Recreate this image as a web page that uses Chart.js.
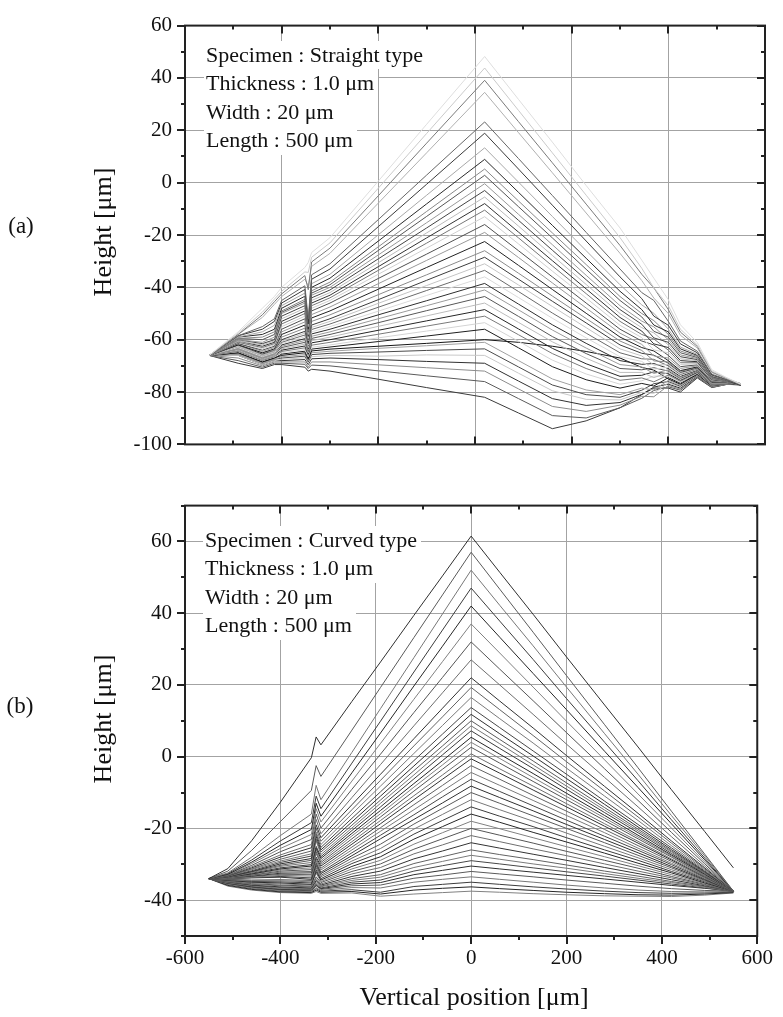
<!DOCTYPE html>
<html>
<head>
<meta charset="utf-8">
<script src="https://cdn.jsdelivr.net/npm/chart.js@4.4.1/dist/chart.umd.min.js"></script>
<style>
  html, body { margin:0; padding:0; background:#fff; }
  body { width:783px; height:1017px; position:relative; overflow:hidden; font-family:"Liberation Serif","Times New Roman",serif; color:#111; }
  canvas { position:absolute; left:0; }
  .rot { position:absolute; font-size:26px; line-height:1; white-space:nowrap; transform:translate(-50%,-50%) rotate(-90deg); }
  .ctr { position:absolute; line-height:1; white-space:nowrap; transform:translate(-50%,-50%); }
  .box { position:absolute; font-size:22px; line-height:28.4px; }
  .box span { display:block; width:fit-content; background:#fff; padding:0 4px 0 2px; white-space:nowrap; }
</style>
</head>
<body>
<canvas id="ca" width="783" height="470" style="top:0;width:783px;height:470px"></canvas>
<canvas id="cb" width="783" height="537" style="top:480px;width:783px;height:537px"></canvas>

<div class="ctr" style="left:21px;top:225px;font-size:23px">(a)</div>
<div class="ctr" style="left:20px;top:705px;font-size:23px">(b)</div>
<div class="rot" style="left:103px;top:232px">Height [μm]</div>
<div class="rot" style="left:103px;top:719px">Height [μm]</div>
<div class="ctr" style="left:474px;top:997px;font-size:26px">Vertical position [μm]</div>

<div class="box" style="left:204px;top:41px">
  <span>Specimen : Straight type</span>
  <span>Thickness : 1.0 μm</span>
  <span>Width : 20 μm</span>
  <span>Length : 500 μm</span>
</div>
<div class="box" style="left:203px;top:526px">
  <span>Specimen : Curved type</span>
  <span>Thickness : 1.0 μm</span>
  <span>Width : 20 μm</span>
  <span>Length : 500 μm</span>
</div>

<script>
// ---------------- data: (a) straight type ----------------
const xStraight = [-550,-490,-440,-415,-400,-352,-345,-338,-300,-200,-100,20,90,160,230,300,345,370,400,425,460,490,520,550];
const s01 = [-66,-57,-48,-43.5,-40,-32.4,-30.5,-26.7,-21,0.6,22.3,48.2,31.8,15.5,-1.1,-17.3,-29.6,-36.5,-44.7,-54.3,-61.1,-71.5,-74.4,-77];
const s02 = [-66,-57.5,-49.5,-44.5,-41.5,-34.1,-34.3,-28.5,-23,-2.1,18.8,43.8,27.6,11.4,-4.8,-21,-32.7,-40.2,-47,-56,-62,-72,-74.6,-77];
const s03 = [-66,-58,-50.5,-45.5,-42.5,-35.5,-40.9,-30.3,-25,-5,15.1,39.1,23.3,7.6,-8.2,-24,-35,-40.2,-48.5,-57.1,-62.6,-72.3,-74.7,-77.2];
const s04 = [-66,-58,-51.5,-46.5,-43.5,-36.9,-39.4,-32,-27,-7.8,11.4,34.5,19.1,3.8,-11.6,-27,-37.4,-44.1,-50,-58.3,-63.2,-72.6,-74.8,-76.8];
const s05 = [-66,-58.5,-55,-52,-45,-39.4,-52,-35.2,-31,-14.1,2.9,23.2,9.2,-4.9,-19,-33,-42,-45,-53,-60.5,-64.4,-73.2,-75.1,-77.3];
const s06 = [-66,-58.5,-56,-53,-46,-40.8,-54,-36.9,-33,-16.8,-0.6,18.9,5.2,-8.6,-22.3,-36,-44.3,-51,-54.5,-61.6,-65,-73.5,-75.2,-76.8];
const s07 = [-66,-59,-57,-54.5,-47,-42.2,-55,-38.6,-35,-19.9,-4.8,13.3,0.2,-12.9,-26,-39,-46.7,-49.9,-56,-62.8,-65.6,-73.8,-75.3,-77];
const s08 = [-66,-59,-58,-56,-48,-43.4,-56,-40,-36.5,-22.3,-8.1,8.9,-3.7,-16.3,-28.9,-41.5,-48.5,-54.4,-57,-63.5,-66,-74,-75.4,-77.4];
const s09 = [-66,-59.5,-59,-57,-49,-44.6,-56.5,-41.3,-38,-24.5,-11,5.2,-7,-19.2,-31.3,-43.5,-50,-52.7,-58,-64.3,-66.4,-74.2,-75.5,-76.9];
const s10 = [-66,-59.5,-60,-58,-49.5,-45.3,-57,-42.2,-39,-25.9,-12.9,2.8,-9.2,-21.1,-33.1,-45,-51.3,-56.8,-59,-65,-66.8,-74.4,-75.6,-77.2];
const s11 = [-66,-60,-61,-59,-50,-46,-57.5,-43,-40,-27.6,-15.3,-0.4,-12.1,-23.7,-35.4,-47,-52.9,-55.1,-60,-65.8,-67.2,-74.6,-75.6,-76.8];
const s12 = [-66,-60,-61.5,-60,-51,-47,-57,-44,-41,-29.1,-17.3,-3,-14.4,-25.8,-37.1,-48.5,-54.1,-59.3,-61,-66.5,-67.6,-74.8,-75.7,-77.1];
const s13 = [-66,-60.5,-62,-60.5,-52,-48,-58,-45,-42,-30.6,-19.2,-5.5,-16.6,-27.8,-38.9,-50,-55.4,-57.4,-62,-67.3,-68,-75,-75.8,-77];
const s14 = [-66,-60.5,-62.5,-61,-53,-49,-58.5,-46,-43,-32.1,-21.1,-8,-18.9,-29.8,-40.6,-51.5,-56.7,-61.6,-63,-68,-68.4,-75.2,-75.9,-77.3];
const s15 = [-66,-61,-63,-61.5,-54,-50,-59,-47,-44,-33.5,-23.1,-10.5,-21.1,-31.8,-42.4,-53,-58,-59.7,-64,-68.8,-68.8,-75.4,-76,-76.9];
const s16 = [-66,-61,-63.5,-62,-55,-51,-59.5,-48,-45,-35,-25,-13,-23.4,-33.8,-44.1,-54.5,-59.2,-63.9,-65,-69.5,-69.2,-75.6,-76,-77.2];
const s17 = [-66,-61.5,-64,-62.5,-56,-52,-60,-49,-46,-36.6,-27.3,-16,-26,-36,-46,-56,-60.5,-62,-66,-70.3,-69.6,-75.8,-76.1,-77];
const s18 = [-66,-61.5,-64.5,-63,-57,-53.2,-60.5,-50.4,-47.5,-38.6,-29.7,-19,-28.6,-38.3,-47.9,-57.5,-61.8,-66.2,-67,-71,-70,-76,-76.2,-77.3];
const s19 = [-66,-62,-65,-63.5,-58,-54.4,-61,-51.7,-49,-40.7,-32.4,-22.5,-31.6,-40.8,-49.9,-59,-63,-64.3,-68,-71.8,-70.4,-76.2,-76.3,-76.9];
const s20 = [-66,-62,-65,-64,-59,-55.6,-61,-53,-50.5,-42.8,-35.2,-26,-34.6,-43.3,-51.9,-60.5,-64.1,-68.1,-68.5,-72.1,-70.6,-76.3,-76.3,-77];
const s21 = [-66,-62,-65.5,-64,-60,-56.8,-61.5,-54.4,-52,-44.7,-37.3,-28.5,-36.9,-45.3,-53.6,-62,-65.2,-65.9,-69,-72.5,-70.8,-76.4,-76.4,-77.2];
const s22 = [-66,-62.5,-66,-64.5,-60.5,-57.5,-62,-55.3,-53,-46.1,-39.3,-31,-39.1,-47.3,-55.4,-63.5,-66.2,-69.7,-69.5,-72.9,-71,-76.5,-76.4,-76.9];
const s23 = [-66,-62.5,-66,-64.5,-61,-58.2,-62.5,-56.1,-54,-47.6,-41.2,-33.5,-41.6,-49.8,-57.5,-65,-67.3,-67.5,-70,-73.3,-71.2,-76.6,-76.4,-77.1];
const s24 = [-66,-63,-66.5,-65,-61.5,-58.9,-63,-57,-55,-49.1,-43.1,-36,-43.9,-51.8,-59.3,-66.5,-68.3,-71.3,-70.5,-73.6,-71.4,-76.7,-76.5,-77];
const s25 = [-66,-63,-66.5,-65,-62,-59.6,-63.5,-57.8,-56,-50.5,-45.1,-38.5,-46.4,-54.3,-61.4,-68,-69.4,-69.1,-71,-74,-71.6,-76.8,-76.5,-77.3];
const s26 = [-66,-63.5,-67,-65.5,-62.5,-60.3,-64,-58.7,-57,-52,-47,-41,-48.6,-56.3,-63.2,-69.5,-70.4,-72.9,-71.5,-74.4,-71.8,-76.9,-76.6,-77];
const s27 = [-66,-63.5,-67,-65.5,-63,-61,-64.5,-59.5,-58,-53.5,-48.9,-43.5,-51.1,-58.8,-65.3,-71,-71.5,-70.7,-72,-74.8,-72,-77,-76.6,-77.2];
const s28 = [-66,-64,-67.5,-66,-63.5,-61.7,-65,-60.4,-59,-54.9,-50.9,-46,-53.4,-60.8,-67.1,-72.5,-72.5,-74.5,-72.5,-75.1,-72.2,-77.1,-76.6,-76.9];
const s29 = [-66,-64,-67.5,-66,-64,-62.4,-65.5,-61.2,-60,-56.4,-52.8,-48.5,-55.9,-63.3,-69.2,-74,-73.6,-72.3,-73,-75.5,-72.4,-77.2,-76.7,-77.2];
const s30 = [-66,-64.5,-68,-66.5,-64.5,-63.1,-66,-62.1,-61,-57.9,-54.8,-51,-58.1,-65.3,-71,-75.5,-74.6,-76.1,-73.5,-75.9,-72.6,-77.3,-76.7,-76.9];
const s31 = [-66,-64.5,-68,-66.5,-65,-63.8,-66.5,-62.9,-62,-59.3,-56.7,-53.5,-60.6,-67.8,-73.1,-77,-75.7,-73.9,-74,-76.3,-72.8,-77.4,-76.8,-77.3];
const s32 = [-66,-65,-68.5,-67,-65.5,-64.4,-67,-63.6,-62.8,-60.7,-58.6,-56,-63.1,-70.3,-75.3,-78.5,-76.7,-77.7,-74.5,-76.6,-73,-77.5,-76.8,-77];
const s33 = [-66,-65,-68.5,-67,-66,-65,-67.5,-64.3,-63.6,-62.5,-61.4,-60,-61,-62.5,-64.5,-67,-70.6,-71.6,-75,-77,-73.2,-77.6,-76.8,-77.2];
const s34 = [-66,-65.5,-69,-67.5,-66.5,-65.7,-68,-65,-64.4,-63.3,-62.3,-61,-68,-75,-79.2,-81,-78.5,-79.2,-75.5,-77.4,-73.4,-77.7,-76.9,-76.9];
const s35 = [-66,-65.5,-69,-67.5,-67,-66.3,-68.5,-65.7,-65.2,-64.7,-64.1,-63.5,-70.4,-77.3,-81,-82,-79.3,-76.8,-76,-77.8,-73.6,-77.8,-76.9,-77.2];
const s36 = [-66,-66,-69.5,-68,-67.5,-66.9,-69,-66.5,-66,-66.3,-65.8,-66,-72.8,-79.5,-82.8,-83,-80.1,-80.5,-76.5,-78.1,-73.8,-77.9,-77,-76.9];
const s37 = [-66,-66,-69.5,-68,-68,-67.6,-69.5,-67.3,-67,-67.6,-68.3,-69,-75.8,-82.5,-85.1,-84,-80.9,-78.1,-77,-78.5,-74,-78,-77,-77.3];
const s38 = [-66,-67,-70,-68.5,-68.5,-68.5,-70.5,-68.5,-68.5,-69.6,-70.7,-72,-78.8,-85.5,-87.4,-85,-81.6,-81.8,-77.5,-78.9,-74.2,-78.1,-77,-77];
const s39 = [-66,-68,-70.5,-69,-69,-69.4,-71,-69.7,-70,-71.9,-73.8,-76,-82.5,-89,-89.9,-86,-82.4,-79.4,-78,-79.3,-74.4,-78.2,-77.1,-77.2];
const s40 = [-66,-69,-71,-69.5,-69.5,-70.5,-72,-71.3,-72,-75.1,-78.3,-82,-88,-94,-91,-86,-81,-78.5,-78.5,-80,-74.6,-78.3,-77.1,-77];
const straightCurves = [s01,s02,s03,s04,s05,s06,s07,s08,s09,s10,s11,s12,s13,s14,s15,s16,s17,s18,s19,s20,
                        s21,s22,s23,s24,s25,s26,s27,s28,s29,s30,s31,s32,s33,s34,s35,s36,s37,s38,s39,s40];
const straightYTicks = [-100,-80,-60,-40,-20,0,20,40,60];

// ---------------- data: (b) curved type ----------------
const xCurved = [-550,-510,-460,-400,-335,-325,-315,-250,-190,-120,-60,0,60,130,200,280,350,420,490,550];
const c01 = [-34,-31.2,-23.4,-12.7,-0.3,5.5,3.3,15.4,26.4,39.4,50.4,61.5,51.4,39.7,27.8,14.4,2.7,-9.2,-20.9,-31];
const c02 = [-34,-31.9,-26.1,-18.1,-9.4,-2.5,-5.5,7.4,19.3,33.2,45.1,57,46.7,34.7,22.6,8.9,-3.1,-15.2,-27.2,-37.5];
const c03 = [-34,-32.4,-28,-22,-16,-8,-12,1.2,13.4,27.6,39.8,52,42.2,30.9,19.4,6.4,-4.9,-16.4,-27.7,-37.5];
const c04 = [-34,-32.6,-28.8,-23.5,-18.4,-11,-14.5,-1.8,9.9,23.6,35.3,47,37.8,27.1,16.2,4,-6.7,-17.6,-28.3,-37.5];
const c05 = [-34,-32.8,-29.4,-24.7,-20.3,-13,-16.6,-4.5,6.6,19.7,30.8,42,33.3,23.2,13.1,1.5,-8.6,-18.7,-28.8,-37.5];
const c06 = [-34,-32.9,-29.8,-25.6,-21.7,-14.5,-18.2,-6.8,3.7,16,26.5,37,28.9,19.4,9.9,-0.9,-10.4,-19.9,-29.4,-37.5];
const c07 = [-34,-33,-30.3,-26.5,-23.1,-16,-19.9,-9.1,0.7,12.3,22.1,32,24.4,15.6,6.7,-3.4,-12.2,-21.1,-29.9,-37.5];
const c08 = [-34,-33.1,-30.7,-27.4,-24.5,-17.5,-21.5,-11.4,-2.2,8.6,17.8,27,20,11.8,3.5,-5.8,-14,-22.3,-30.5,-37.5];
const c09 = [-34,-33.2,-31,-28,-25.4,-19,-22.6,-13.4,-4.9,5,13.5,22,15.5,8,0.3,-8.3,-15.8,-23.5,-31,-37.5];
const c10 = [-34,-33.3,-31.3,-28.6,-26.3,-20,-23.6,-14.8,-6.6,3,11.1,19.3,13.1,5.9,-1.4,-9.6,-16.8,-24.1,-31.3,-37.5];
const c11 = [-34,-33.3,-31.5,-29.1,-27.1,-21,-24.5,-16,-8.2,0.9,8.7,16.5,10.6,3.8,-3.2,-11,-17.8,-24.8,-31.6,-37.5];
const c12 = [-34,-33.4,-31.8,-29.5,-27.7,-21.5,-25.3,-17.2,-9.8,-1.1,6.3,13.7,8.1,1.6,-4.9,-12.4,-18.9,-25.4,-31.9,-37.5];
const c13 = [-34,-33.5,-32,-29.9,-28.4,-22.2,-26,-18.2,-11,-2.6,4.6,11.8,6.4,0.2,-6.1,-13.3,-19.6,-25.9,-32.1,-37.5];
const c14 = [-34,-33.5,-32.1,-30.3,-28.9,-23,-26.6,-19.1,-12.1,-3.9,3,10,4.8,-1.2,-7.3,-14.2,-20.2,-26.3,-32.3,-37.5];
const c15 = [-34,-33.6,-32.3,-30.6,-29.5,-23.5,-27.3,-19.9,-13,-5.1,1.8,8.6,3.6,-2.3,-8.2,-14.9,-20.7,-26.6,-32.5,-37.5];
const c16 = [-34,-33.6,-32.5,-31,-30.1,-25,-27.9,-20.6,-14,-6.2,0.5,7.2,2.3,-3.3,-9.1,-15.6,-21.2,-27,-32.6,-37.5];
const c17 = [-34,-33.6,-32.7,-31.3,-30.5,-25.5,-28.4,-21.4,-15,-7.5,-1.1,5.4,0.7,-4.7,-10.2,-16.4,-21.9,-27.4,-32.8,-37.5];
const c18 = [-34,-33.7,-32.8,-31.6,-31,-26,-29,-22.1,-15.9,-8.5,-2.3,4,-0.5,-5.8,-11.1,-17.1,-22.4,-27.7,-33,-37.5];
const c19 = [-34,-33.7,-33,-31.9,-31.5,-26.5,-29.5,-22.9,-16.8,-9.6,-3.5,2.6,-1.8,-6.9,-12,-17.8,-22.9,-28,-33.1,-37.5];
const c20 = [-34,-33.8,-33.1,-32.2,-32,-27,-30,-23.7,-17.8,-10.9,-5.1,0.8,-3.4,-8.2,-13.1,-18.7,-23.6,-28.5,-33.3,-37.5];
const c21 = [-34,-33.8,-33.3,-32.5,-32.4,-28,-30.5,-24.4,-18.7,-12,-6.3,-0.6,-4.6,-9.3,-14,-19.4,-24.1,-28.8,-33.5,-37.5];
const c22 = [-34,-33.8,-33.4,-32.8,-32.9,-28.5,-31.1,-25.2,-19.8,-13.4,-8,-2.5,-6.3,-10.8,-15.2,-20.3,-24.8,-29.2,-33.7,-37.5];
const c23 = [-34,-33.9,-33.6,-33.1,-33.3,-29,-31.6,-26,-20.8,-14.8,-9.6,-4.4,-8,-12.2,-16.4,-21.2,-25.5,-29.7,-33.9,-37.5];
const c24 = [-34,-34,-33.7,-33.4,-33.8,-29.5,-32.2,-26.8,-21.9,-16.2,-11.2,-6.3,-9.7,-13.7,-17.7,-22.2,-26.1,-30.1,-34.1,-37.5];
const c25 = [-34,-34,-33.8,-33.6,-34.2,-30,-32.6,-27.6,-22.9,-17.5,-12.9,-8.2,-11.4,-15.1,-18.9,-23.1,-26.8,-30.6,-34.3,-37.5];
const c26 = [-34,-34.2,-34.4,-34.3,-34.5,-30.5,-33.1,-28.3,-24.4,-18.8,-14.4,-10,-13,-16.5,-20,-24,-27.5,-31,-34.5,-37.5];
const c27 = [-34,-34.3,-34.6,-34.6,-34.9,-31,-33.5,-29.1,-25.6,-20.2,-16.1,-12,-14.8,-18,-21.3,-25,-28.2,-31.5,-34.7,-37.5];
const c28 = [-34,-34.4,-34.8,-34.9,-35.2,-31.5,-34,-29.8,-26.8,-21.6,-17.8,-14,-16.6,-19.5,-22.6,-26,-28.9,-32,-34.9,-37.5];
const c29 = [-34,-34.5,-35,-35.2,-35.6,-32,-34.4,-30.6,-27.9,-23,-19.5,-16,-18.3,-21.1,-23.8,-26.9,-29.7,-32.4,-35.2,-37.5];
const c30 = [-34,-34.6,-35.2,-35.5,-35.8,-32.5,-34.8,-31.3,-28.9,-24.4,-21.2,-18,-20.1,-22.6,-25.1,-27.9,-30.4,-32.9,-35.4,-37.5];
const c31 = [-34,-34.7,-35.4,-35.8,-36.1,-33.5,-35.1,-32,-29.9,-25.8,-22.9,-20,-21.9,-24.1,-26.4,-28.9,-31.1,-33.4,-35.6,-37.5];
const c32 = [-34,-34.8,-35.6,-36,-36.3,-34,-35.5,-32.7,-30.9,-27.1,-24.6,-22,-23.7,-25.7,-27.6,-29.9,-31.9,-33.8,-35.8,-37.5];
const c33 = [-34,-34.9,-35.8,-36.3,-36.6,-34.5,-35.8,-33.4,-31.9,-28.5,-26.3,-24,-25.5,-27.2,-28.9,-30.9,-32.6,-34.3,-36,-37.5];
const c34 = [-34,-35,-35.9,-36.5,-36.7,-34.8,-36.1,-34,-32.9,-29.8,-27.9,-26,-27.3,-28.7,-30.2,-31.9,-33.3,-34.8,-36.2,-37.5];
const c35 = [-34,-35.1,-36,-36.7,-36.9,-35.2,-36.3,-34.5,-33.6,-30.9,-29.2,-27.5,-28.6,-29.9,-31.1,-32.6,-33.9,-35.1,-36.4,-37.5];
const c36 = [-34,-35.2,-36.2,-36.9,-37,-35.5,-36.6,-35,-34.4,-31.9,-30.4,-29,-29.9,-31,-32.1,-33.3,-34.4,-35.5,-36.6,-37.5];
const c37 = [-34,-35.3,-36.3,-37,-37.2,-35.8,-36.8,-35.5,-35.1,-32.9,-31.7,-30.5,-31.3,-32.2,-33.1,-34.1,-35,-35.9,-36.7,-37.5];
const c38 = [-34,-35.4,-36.4,-37.1,-37.4,-36,-37,-36,-35.8,-33.9,-33,-32,-32.7,-33.5,-34.4,-35.3,-36.1,-36.8,-37.3,-37.5];
const c39 = [-34,-35.5,-36.6,-37.3,-37.6,-36.5,-37.3,-36.5,-36.6,-35,-34.2,-33.5,-34.2,-35,-35.8,-36.6,-37.2,-37.6,-37.7,-37.6];
const c40 = [-34,-35.7,-36.8,-37.5,-37.7,-36.8,-37.5,-37.1,-37.8,-36.2,-35.6,-35,-35.6,-36.3,-36.9,-37.5,-37.9,-38.1,-38,-37.8];
const c41 = [-34,-35.9,-37,-37.7,-37.9,-37.2,-37.8,-37.6,-38.3,-37.2,-36.7,-36.3,-36.8,-37.3,-37.8,-38.2,-38.5,-38.6,-38.3,-37.9];
const c42 = [-34,-36.1,-37.2,-37.9,-38.1,-37.6,-38.1,-38,-38.9,-38.3,-37.9,-37.5,-37.8,-38.2,-38.5,-38.8,-38.9,-39,-38.6,-38];
const curvedCurves = [c01,c02,c03,c04,c05,c06,c07,c08,c09,c10,c11,c12,c13,c14,c15,c16,c17,c18,c19,c20,c21,
                      c22,c23,c24,c25,c26,c27,c28,c29,c30,c31,c32,c33,c34,c35,c36,c37,c38,c39,c40,c41,c42];
const curvedYTicks = [-40,-20,0,20,40,60];
const xTicks = [-600,-400,-200,0,200,400,600];

// ---------------- styles ----------------
const straightColors = ['#dedede','#cacaca','#7a7a7a','#b0b0b0','#666666','#3a3a3a','#a8a8a8','#2a2a2a','#888888','#555555',
  '#999999','#444444','#bbbbbb','#333333','#777777','#d0d0d0','#505050','#999999','#222222','#8a8a8a',
  '#3c3c3c','#c4c4c4','#6a6a6a','#dadada','#2e2e2e','#9a9a9a','#575757','#bcbcbc','#262626','#7a7a7a',
  '#d4d4d4','#1e1e1e','#151515','#a0a0a0','#4a4a4a','#c8c8c8','#303030','#8c8c8c','#5a5a5a','#3a3a3a'];
const curvedPalette = ['#2f2f2f','#5a5a5a','#777777','#3c3c3c','#262626','#808080','#555555','#6e6e6e','#333333','#626262','#7a7a7a','#474747'];

const FONT = 'Liberation Serif, Times New Roman, serif';

const frameTicks = {
  id: 'frameTicks',
  afterDatasetsDraw(chart, args, o) {
    const { ctx, chartArea: ca, scales: { x, y } } = chart;
    ctx.save();
    ctx.strokeStyle = '#222';
    const seg = (x1, y1, x2, y2) => { ctx.beginPath(); ctx.moveTo(x1, y1); ctx.lineTo(x2, y2); ctx.stroke(); };
    ctx.lineWidth = 2;
    for (let v = -600; v <= 600; v += 100) {
      const px = Math.round(x.getPixelForValue(v));
      const len = v % 200 === 0 ? 8 : 4;
      seg(px, ca.top, px, ca.top + len);
      if (o.bottomOut) seg(px, ca.bottom, px, ca.bottom + len);
      else seg(px, ca.bottom, px, ca.bottom - len);
    }
    for (let v = o.yMin; v <= o.yMax; v += 10) {
      const py = Math.round(y.getPixelForValue(v));
      const len = (v % 20 === 0) ? 8 : 4;
      seg(ca.left, py, ca.left - len, py);
      seg(ca.right, py, ca.right - len, py);
    }
    ctx.strokeRect(ca.left, ca.top, ca.right - ca.left, ca.bottom - ca.top);
    ctx.restore();
  }
};

function build(id, xs, curves, colorOf, yMin, yMax, yTicks, showX, pad, bottomOut) {
  const datasets = curves.map((ys, i) => ({
    data: ys.map((v, j) => ({ x: xs[j], y: v })),
    borderColor: colorOf(i),
    borderWidth: 1,
    pointRadius: 0,
    fill: false,
    tension: 0
  }));
  return new Chart(document.getElementById(id), {
    type: 'line',
    data: { datasets },
    plugins: [frameTicks],
    options: {
      responsive: false,
      animation: false,
      devicePixelRatio: 1,
      layout: { padding: pad },
      plugins: {
        legend: { display: false },
        tooltip: { enabled: false },
        frameTicks: { yMin, yMax, bottomOut }
      },
      scales: {
        x: {
          type: 'linear', min: -600, max: 600,
          afterBuildTicks: s => { s.ticks = xTicks.map(v => ({ value: v })); },
          afterFit: s => { s.height = showX ? 40 : 0; },
          ticks: { display: showX, font: { family: FONT, size: 21 }, color: '#111', padding: 10, maxRotation: 0, autoSkip: false },
          grid: { color: '#a3a3a3', lineWidth: 1, drawTicks: false },
          border: { display: false }
        },
        y: {
          type: 'linear', min: yMin, max: yMax,
          afterBuildTicks: s => { s.ticks = yTicks.map(v => ({ value: v })); },
          afterFit: s => { s.width = 185; },
          ticks: { font: { family: FONT, size: 21 }, color: '#111', padding: 13 },
          grid: { color: '#a3a3a3', lineWidth: 1, drawTicks: false },
          border: { display: false }
        }
      }
    }
  });
}

build('ca', xStraight, straightCurves, i => straightColors[i % straightColors.length],
      -100, 60, straightYTicks, false, { left: 0, top: 20, right: 18, bottom: 22 }, false);
build('cb', xCurved, curvedCurves, i => curvedPalette[i % curvedPalette.length],
      -50, 70, curvedYTicks, true, { left: 0, top: 25, right: 18, bottom: 41 }, true);
</script>
</body>
</html>
